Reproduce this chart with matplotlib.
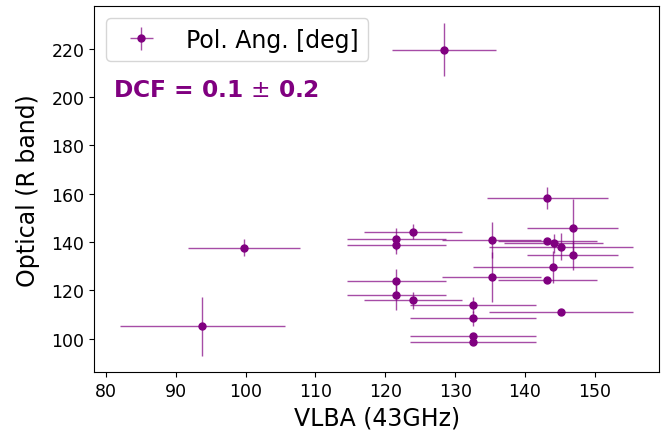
import matplotlib.pyplot as plt
import numpy as np

# Polarization angles [deg]: VLBA 43GHz (x) vs optical R band (y)
vlba = [93.8, 99.8, 128.4,
        124.0, 121.6, 121.6, 121.6, 121.6, 124.0,
        135.2, 135.2, 132.6, 132.6, 132.6, 132.6,
        143.2, 143.2, 143.2, 144.1, 144.0, 145.2, 145.2, 146.8, 146.8]
vlba_err = [11.8, 8.0, 7.5,
            7.0, 7.1, 7.1, 7.1, 7.1, 7.0,
            7.1, 7.1, 9.0, 9.0, 9.0, 9.0,
            8.7, 7.1, 7.1, 7.05, 11.4, 10.3, 10.3, 6.5, 6.5]
optical = [105.3, 137.7, 219.6,
           144.3, 141.3, 138.9, 124.0, 118.2, 115.9,
           140.8, 125.5, 113.9, 108.6, 101.2, 98.9,
           158.1, 140.4, 124.4, 139.6, 129.7, 138.1, 110.9, 145.9, 134.6]
optical_err = [12.2, 3.6, 11.0,
               3.2, 4.5, 3.7, 4.7, 6.2, 3.4,
               7.4, 10.3, 3.3, 3.1, 1.0, 1.0,
               4.6, 1.0, 1.0, 3.9, 6.6, 5.5, 1.0, 12.1, 6.0]

dcf_text = 'DCF = 0.1 $\\pm$ 0.2'

fig = plt.figure(figsize=(6.63, 4.39), dpi=100)
fig.subplots_adjust(left=0.142, right=0.994, bottom=0.15, top=0.983)
ax = fig.add_subplot(111)

ax.errorbar(vlba, optical, xerr=vlba_err, yerr=optical_err, fmt='o',
            color='purple', ecolor=(0.5, 0.0, 0.5, 0.7), ms=5,
            elinewidth=1, capsize=0, label='Pol. Ang. [deg]')

ax.text(0.033, 0.774, dcf_text, transform=ax.transAxes, color='purple',
        fontsize=16.8, fontweight='bold', va='center', ha='left')

ax.set_xlabel('VLBA (43GHz)', fontsize=17)
ax.set_ylabel('Optical (R band)', fontsize=17, labelpad=8)
ax.set_xticks(np.arange(80, 151, 10))
ax.set_yticks(np.arange(100, 221, 20))
ax.tick_params(labelsize=12.5)
ax.legend(loc='upper left', fontsize=17, handlelength=2.2)

fig.savefig('out.png', dpi=100)
